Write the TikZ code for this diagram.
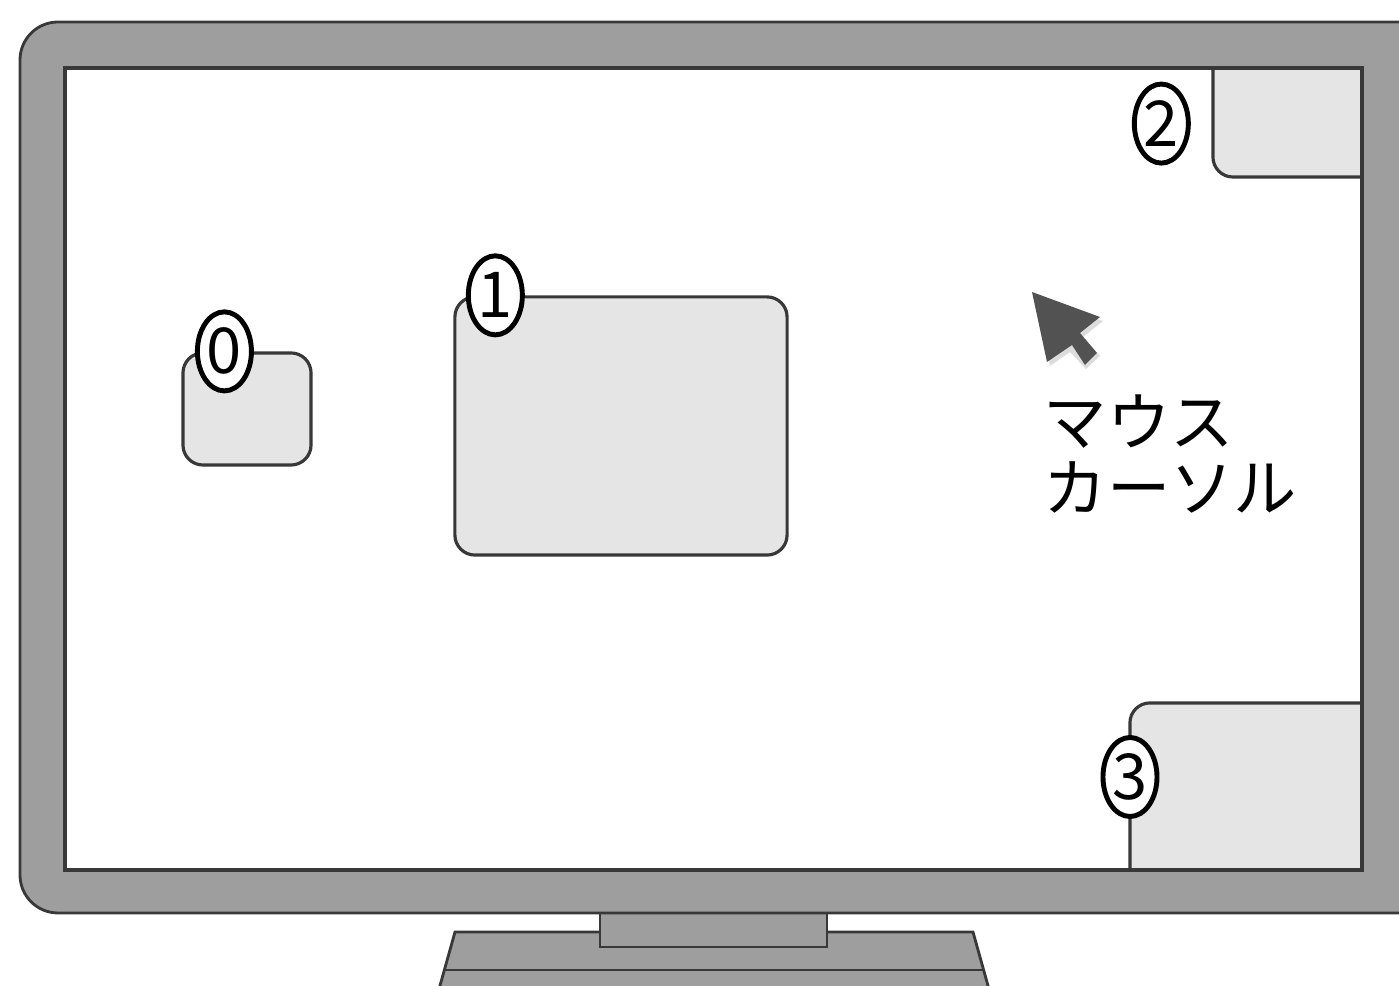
\documentclass[tikz,border=0pt]{standalone}
\usepackage{fontspec}
\newfontfamily\jpfont{Noto Sans CJK JP}
\usepackage{tikz}
\usetikzlibrary{shapes.geometric, calc}
\usepackage{xcolor}

\definecolor{bezel}{gray}{0.62}
\definecolor{winfill}{gray}{0.90}
\definecolor{edge}{gray}{0.22}
\definecolor{cursorgray}{gray}{0.32}

\begin{document}
\begin{tikzpicture}[
    x=0.01cm, y=-0.01cm,
    bezelpart/.style={draw=edge, line width=0.8pt, fill=bezel},
    win/.style={rectangle, draw=edge, line width=0.9pt, fill=winfill, rounded corners=0.2cm, inner sep=0pt},
    num/.style={ellipse, draw=black, line width=1.4pt, fill=white, inner sep=0pt, minimum width=0.54cm, minimum height=0.79cm, font=\jpfont\fontsize{18}{18}\selectfont},
    caption/.style={align=left, inner sep=0pt, font=\jpfont\fontsize{18}{19}\selectfont}
]
\useasboundingbox (0,0) rectangle (1399,986);

% stand
\coordinate (btl) at (455,932);
\coordinate (btr) at (973,932);
\coordinate (bbl) at (436,1000);
\coordinate (bbr) at (992,1000);
\draw[bezelpart] (btl) -- (btr) -- (bbr) -- (bbl) -- cycle;
\draw[edge, line width=0.8pt] ($(btl)!0.56!(bbl)$) -- ($(btr)!0.56!(bbr)$);
\draw[bezelpart] (600,900) rectangle (827,947);

% monitor
\draw[bezelpart, rounded corners=0.38cm] (20,22) rectangle (1440,913);
\fill[white] (65,68) rectangle (1362,870);

% windows
\begin{scope}
\clip (65,68) rectangle (1362,870);
\node[win, minimum width=1.28cm, minimum height=1.12cm] (w0) at (247,409) {};
\node[win, minimum width=3.32cm, minimum height=2.58cm] (w1) at (621,426) {};
\node[win, minimum width=1.90cm, minimum height=1.40cm] (w2) at (1308,107) {};
\node[win, minimum width=2.80cm, minimum height=2.00cm] (w3) at (1270,803) {};
\end{scope}
\draw[edge, line width=0.9pt] (65,68) rectangle (1362,870);

% numbers
\node[num] (n0) at ([xshift=0.43cm]w0.north west) {0};
\node[num] (n1) at ([xshift=0.42cm]w1.north west) {1};
\node[num] (n2) at ([xshift=-0.50cm, yshift=0.55cm]w2.south west) {2};
\node[num] (n3) at (1130,777) {3};

% cursor
\fill[gray!45, opacity=0.6] (1035,296) -- (1103,321) -- (1083,337) -- (1100,356) -- (1086,369) -- (1070,352) -- (1050,366) -- cycle;
\fill[cursorgray] (1032,292) -- (1100,317) -- (1080,333) -- (1097,353) -- (1085,365) -- (1072,345) -- (1047,362) -- cycle;
\node[caption, anchor=base west] (cap) at (1043,512) {マウス\\カーソル};
\end{tikzpicture}
\end{document}
